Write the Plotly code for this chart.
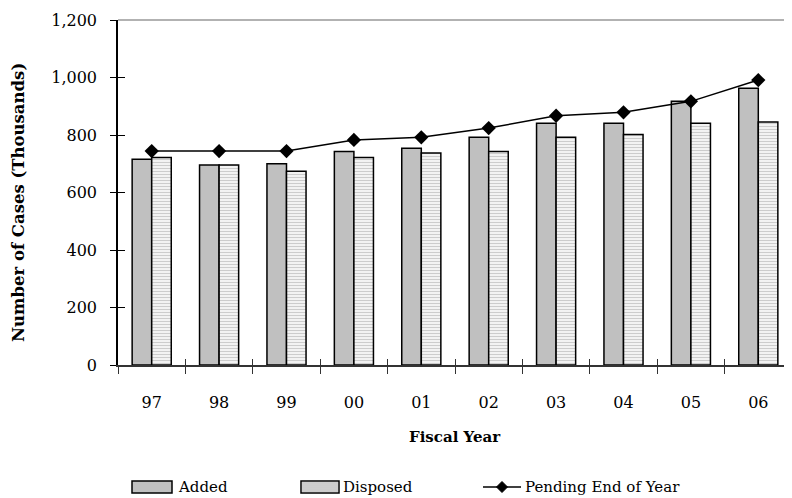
import plotly.graph_objects as go

years = ["97", "98", "99", "00", "01", "02", "03", "04", "05", "06"]
added = [716, 696, 700, 743, 754, 792, 841, 841, 917, 963]
disposed = [722, 696, 674, 722, 737, 743, 792, 802, 841, 845]
pending = [744, 744, 744, 783, 792, 824, 867, 879, 917, 991]
y_ticks = [0, 200, 400, 600, 800, 1000, 1200]
y_tick_labels = ["0", "200", "400", "600", "800", "1,000", "1,200"]

# page body has an 8px margin: figure origin sits at (8, 8) of the page
OFF = 8
W, H = 792 - OFF, 498 - OFF
L, R, T = 118 - OFF, 0, 20 - OFF
B = H - (365 - OFF)
PW, PH = W - L - R, H - T - B

def px(x):
    return (x - OFF - L) / PW

def py(y):
    return (H - B - (y - OFF)) / PH

FONT = "DejaVu Serif"
STRIPE = "#9a9a9a"

fig = go.Figure()
fig.add_trace(go.Bar(
    x=years, y=added, name="Added",
    marker=dict(color="#c0c0c0", line=dict(color="#000000", width=1.5)),
    showlegend=False,
))
fig.add_trace(go.Bar(
    x=years, y=disposed, name="Disposed",
    marker=dict(color="#ffffff", line=dict(color="#000000", width=1.5),
                pattern=dict(shape="-", size=3, solidity=0.5,
                             fgcolor=STRIPE, bgcolor="#ffffff")),
    showlegend=False,
))
fig.add_trace(go.Scatter(
    x=years, y=pending, name="Pending End of Year", mode="lines+markers",
    line=dict(color="#000000", width=1.5),
    marker=dict(symbol="diamond", size=11, color="#000000"),
    xaxis="x2", yaxis="y2", showlegend=False,
))

yrange = [0, 1200]
xrange = [-0.5, 9.5]
fig.update_layout(
    width=W, height=H,
    margin=dict(l=L, r=R, t=T, b=B, autoexpand=False),
    paper_bgcolor="#ffffff", plot_bgcolor="#ffffff",
    barmode="group", bargap=0.42, bargroupgap=0.0,
    font=dict(family=FONT, color="#000000", size=16),
    xaxis=dict(type="category", range=xrange, showline=True, linecolor="#333333",
               linewidth=1.5, ticks="outside", tickson="boundaries", ticklen=7,
               tickcolor="#333333", tickwidth=1, showgrid=False, zeroline=False,
               tickfont=dict(family=FONT, size=16), ticklabelstandoff=22),
    yaxis=dict(range=yrange, tickvals=y_ticks, ticktext=y_tick_labels,
               showline=True, linecolor="#000000", linewidth=1.5,
               ticks="outside", ticklen=6, tickcolor="#000000", tickwidth=1,
               showgrid=False, zeroline=False,
               tickfont=dict(family=FONT, size=16), ticklabelstandoff=10),
    xaxis2=dict(type="category", range=xrange, overlaying="x", side="bottom",
                anchor="y2", showline=False, ticks="inside", tickson="boundaries",
                ticklen=6, tickcolor="#333333", tickwidth=1, showticklabels=False,
                showgrid=False, zeroline=False),
    yaxis2=dict(range=yrange, overlaying="y", side="left", anchor="x2",
                tickvals=y_ticks, showline=False, ticks="inside", ticklen=7,
                tickcolor="#000000", tickwidth=1, showticklabels=False,
                showgrid=False, zeroline=False),
)

shapes = []
# top border
shapes.append(dict(type="line", xref="paper", yref="paper", x0=0, x1=1.01,
                   y0=1, y1=1, line=dict(color="#999999", width=1.5)))
# legend swatches
ly0, ly1 = py(493), py(481)
shapes.append(dict(type="rect", xref="paper", yref="paper", x0=px(132), x1=px(172),
                   y0=ly0, y1=ly1, fillcolor="#c0c0c0",
                   line=dict(color="#000000", width=1.5)))
shapes.append(dict(type="rect", xref="paper", yref="paper", x0=px(301), x1=px(339),
                   y0=ly0, y1=ly1, fillcolor="#ffffff",
                   line=dict(color="#000000", width=1.5)))
path = ""
for yy in range(483, 493, 2):
    path += f"M{px(302)},{py(yy)} L{px(338)},{py(yy)} "
shapes.append(dict(type="path", xref="paper", yref="paper", path=path,
                   line=dict(color=STRIPE, width=1)))
shapes.append(dict(type="line", xref="paper", yref="paper", x0=px(483), x1=px(521),
                   y0=py(487), y1=py(487), line=dict(color="#000000", width=1.5)))
dm = f"M{px(502)},{py(481.5)} L{px(507.5)},{py(487)} L{px(502)},{py(492.5)} L{px(496.5)},{py(487)} Z"
shapes.append(dict(type="path", xref="paper", yref="paper", path=dm,
                   fillcolor="#000000", line=dict(color="#000000", width=1)))
fig.update_layout(shapes=shapes)

annotations = [
    dict(text="<b>Number of Cases (Thousands)</b>", xref="paper", yref="paper",
         x=px(18), y=py(203), xanchor="center", yanchor="middle", textangle=-90,
         showarrow=False, font=dict(family=FONT, size=16.5)),
    dict(text="<b>Fiscal Year</b>", xref="paper", yref="paper",
         x=px(455), y=py(437), xanchor="center", yanchor="middle",
         showarrow=False, font=dict(family=FONT, size=15)),
    dict(text="Added", xref="paper", yref="paper", x=px(176), y=py(487),
         xanchor="left", yanchor="middle", showarrow=False,
         font=dict(family=FONT, size=15)),
    dict(text="Disposed", xref="paper", yref="paper", x=px(341), y=py(487),
         xanchor="left", yanchor="middle", showarrow=False,
         font=dict(family=FONT, size=15)),
    dict(text="Pending End of Year", xref="paper", yref="paper", x=px(523), y=py(487),
         xanchor="left", yanchor="middle", showarrow=False,
         font=dict(family=FONT, size=15)),
]
fig.update_layout(annotations=annotations)

fig.write_html("out.html")
